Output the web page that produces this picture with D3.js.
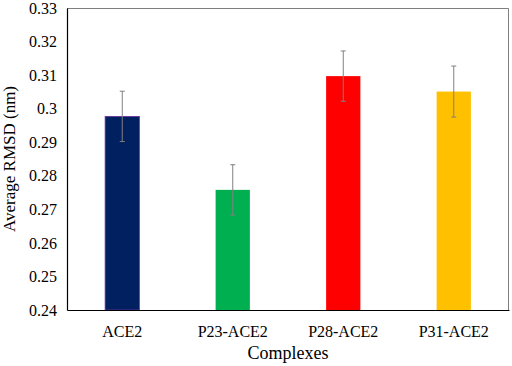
<!DOCTYPE html>
<html>
<head>
<meta charset="utf-8">
<script src="https://cdn.jsdelivr.net/npm/d3@7/dist/d3.min.js"></script>
<style>
  body { margin: 0; background: #fff; }
</style>
</head>
<body>
<div id="chart"></div>
<script>
const categories = ["ACE2", "P23-ACE2", "P28-ACE2", "P31-ACE2"];
const values = [0.2977, 0.2758, 0.3097, 0.3051];
const errors = [0.0075, 0.0075, 0.0075, 0.0076];
const colors = ["#002060", "#00B050", "#FF0000", "#FFC000"];
const yTicks = [0.24, 0.25, 0.26, 0.27, 0.28, 0.29, 0.3, 0.31, 0.32, 0.33];

const serif = "'Liberation Serif', 'Times New Roman', serif";
const width = 512, height = 366;
const margin = { top: 8, right: 3, bottom: 56, left: 67 };
const w = width - margin.left - margin.right;
const h = height - margin.top - margin.bottom;

const svg = d3.select("#chart").append("svg")
    .attr("width", width)
    .attr("height", height);

const g = svg.append("g")
    .attr("transform", `translate(${margin.left},${margin.top})`);

const x = d3.scaleBand().domain(categories).range([0, w]).paddingInner(0.69).paddingOuter(0.345);
const y = d3.scaleLinear().domain([0.24, 0.33]).range([h, 0]);

// box: light top/right
g.append("path")
    .attr("d", `M0,0.5 H${w - 0.5} V${h}`)
    .attr("fill", "none")
    .attr("stroke", "#7f7f7f")
    .attr("stroke-width", 1);

// bars
g.selectAll("rect.bar")
    .data(categories)
    .enter().append("rect")
    .attr("class", "bar")
    .attr("x", d => x(d))
    .attr("width", x.bandwidth())
    .attr("y", (d, i) => y(values[i]))
    .attr("height", (d, i) => h - y(values[i]))
    .attr("fill", (d, i) => colors[i])
    .attr("stroke", (d, i) => i === 0 ? "#7030A0" : "none")
    .attr("stroke-width", 0.8);

// error bars
const eb = g.selectAll("g.err")
    .data(categories)
    .enter().append("g")
    .attr("class", "err")
    .attr("transform", d => `translate(${x(d) + x.bandwidth() / 2},0)`);

eb.append("line")
    .attr("y1", (d, i) => y(values[i] + errors[i]))
    .attr("y2", (d, i) => y(values[i] - errors[i]))
    .attr("stroke", "#808080").attr("stroke-width", 1);
eb.append("line")
    .attr("x1", -2.5).attr("x2", 2.5)
    .attr("y1", (d, i) => y(values[i] + errors[i]))
    .attr("y2", (d, i) => y(values[i] + errors[i]))
    .attr("stroke", "#808080").attr("stroke-width", 1);
eb.append("line")
    .attr("x1", -2.5).attr("x2", 2.5)
    .attr("y1", (d, i) => y(values[i] - errors[i]))
    .attr("y2", (d, i) => y(values[i] - errors[i]))
    .attr("stroke", "#808080").attr("stroke-width", 1);

// y axis
const yAxis = g.append("g")
    .call(d3.axisLeft(y).tickValues(yTicks).tickSize(0).tickPadding(10).tickFormat(d => d3.format("")(+d.toFixed(2))));
yAxis.select(".domain").attr("stroke", "#000").attr("stroke-width", 1.2);
yAxis.selectAll("text").style("font-family", serif).style("font-size", "16px").attr("fill", "#000");

// x axis
const xAxis = g.append("g")
    .attr("transform", `translate(0,${h})`)
    .call(d3.axisBottom(x).tickSize(0).tickPadding(16));
xAxis.select(".domain").attr("stroke", "#000").attr("stroke-width", 1.2);
xAxis.selectAll("text").style("font-family", serif).style("font-size", "16px").attr("fill", "#000");

// axis titles
svg.append("text")
    .attr("x", margin.left + w / 2)
    .attr("y", 359)
    .attr("text-anchor", "middle")
    .style("font-family", serif)
    .style("font-size", "18px")
    .text("Complexes");

svg.append("text")
    .attr("transform", `translate(15,${margin.top + h / 2}) rotate(-90)`)
    .attr("text-anchor", "middle")
    .style("font-family", serif)
    .style("font-size", "17px")
    .text("Average RMSD (nm)");
</script>
</body>
</html>
